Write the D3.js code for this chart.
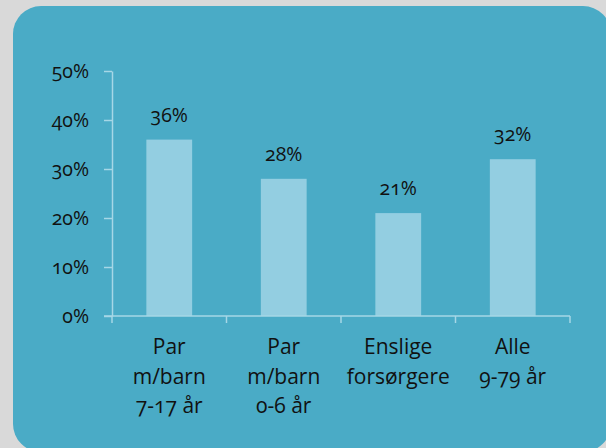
<!DOCTYPE html>
<html>
<head>
<meta charset="utf-8">
<script src="https://cdn.jsdelivr.net/npm/d3@7"></script>
<style>
  body { margin: 0; background: #d9d9d9; }
  svg { display: block; font-family: "Open Sans", sans-serif; font-variant-numeric: oldstyle-nums; }
</style>
</head>
<body>
<div id="container"></div>
<script>
/* DATA */
const categories = ["Par m/barn 7-17 år", "Par m/barn 0-6 år", "Enslige forsørgere", "Alle 9-79 år"];
const categoryLines = [["Par", "m/barn", "7-17 år"], ["Par", "m/barn", "0-6 år"], ["Enslige", "forsørgere"], ["Alle", "9-79 år"]];
const shares = [0.36, 0.28, 0.21, 0.32];
const yTicks = [0, 0.1, 0.2, 0.3, 0.4, 0.5];

/* CONSTANTS */
const width = 606, height = 448;
const margin = { top: 71, bottom: 132, left: 112, right: 36 };
const axisColor = "#a6d7e6";

const svg = d3.select("#container")
  .append("svg")
  .attr("width", width)
  .attr("height", height);

// PANEL
svg.append("rect")
  .attr("x", 13)
  .attr("y", 6)
  .attr("width", 598)
  .attr("height", 446)
  .attr("rx", 28)
  .attr("fill", "#4aabc6");

// SCALES
const x = d3.scaleBand()
  .domain(categories)
  .range([margin.left, width - margin.right])
  .paddingInner(0.6)
  .paddingOuter(0.3);

const y = d3.scaleLinear()
  .domain([0, 0.5])
  .range([height - margin.bottom, margin.top]);

// BARS
svg.selectAll("rect.bar")
  .data(shares)
  .join("rect")
  .attr("class", "bar")
  .attr("x", (d, i) => x(categories[i]))
  .attr("y", d => y(d))
  .attr("width", x.bandwidth())
  .attr("height", d => y(0) - y(d))
  .attr("fill", "#93cee1");

// VALUE LABELS
svg.selectAll("text.value")
  .data(shares)
  .join("text")
  .attr("class", "value")
  .attr("x", (d, i) => x(categories[i]) + x.bandwidth() / 2)
  .attr("y", d => y(d) - 18)
  .attr("text-anchor", "middle")
  .style("font-size", "19.5px")
  .style("fill", "#111")
  .text(d => d3.format(".0%")(d));

// Y AXIS
const yAxis = svg.append("g")
  .attr("transform", `translate(${margin.left},0)`)
  .call(d3.axisLeft(y)
    .tickValues(yTicks)
    .tickFormat(d3.format(".0%"))
    .tickSize(8)
    .tickSizeOuter(0)
    .tickPadding(15));
yAxis.select(".domain").attr("stroke", axisColor).attr("stroke-width", 1.5);
yAxis.selectAll(".tick line").attr("stroke", axisColor).attr("stroke-width", 1.5);
yAxis.selectAll(".tick text")
  .style("font-size", "19.5px")
  .style("font-family", "\"Open Sans\", sans-serif")
  .attr("fill", "#111");

// X AXIS (ticks between categories)
const boundaries = [x.range()[0]].concat(categories.map(c => x(c) + x.bandwidth() / 2 + x.step() / 2));
const xAxis = svg.append("g")
  .attr("transform", `translate(0,${y(0)})`);
xAxis.append("line")
  .attr("x1", margin.left - 8)
  .attr("x2", boundaries[boundaries.length - 1])
  .attr("stroke", axisColor)
  .attr("stroke-width", 1.5);
xAxis.selectAll("line.tick")
  .data(boundaries)
  .join("line")
  .attr("class", "tick")
  .attr("x1", d => d)
  .attr("x2", d => d)
  .attr("y1", 0)
  .attr("y2", 7)
  .attr("stroke", axisColor)
  .attr("stroke-width", 1.5);

// CATEGORY LABELS
const catLabels = svg.selectAll("text.category")
  .data(categoryLines)
  .join("text")
  .attr("class", "category")
  .attr("text-anchor", "middle")
  .style("font-size", "21px")
  .style("fill", "#111");

catLabels.selectAll("tspan")
  .data((lines, i) => lines.map(l => ({ line: l, cat: categories[i] })))
  .join("tspan")
  .attr("x", d => x(d.cat) + x.bandwidth() / 2)
  .attr("y", (d, j) => y(0) + 38 + j * 29.5)
  .text(d => d.line);
</script>
</body>
</html>
